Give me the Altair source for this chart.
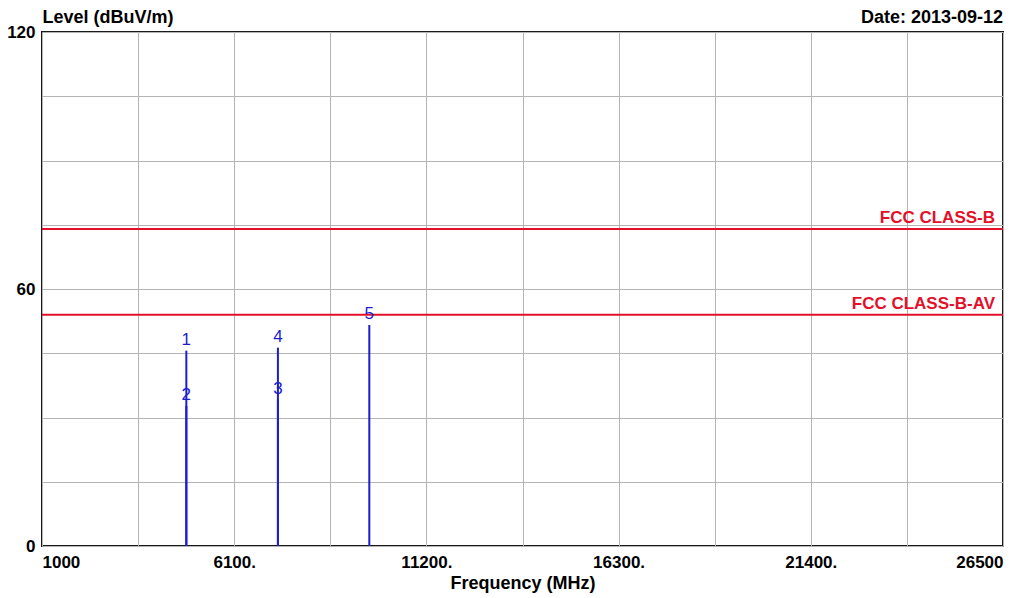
import json
import altair as alt
import pandas as pd

# Axis grid / tick definitions
x_grid = [1000, 3550, 6100, 8650, 11200, 13750, 16300, 18850, 21400, 23950, 26500]
x_tick_values = [1000, 6100, 11200, 16300, 21400, 26500]
x_tick_labels = ["1000", "6100.", "11200.", "16300.", "21400.", "26500"]
y_grid = [0, 15, 30, 45, 60, 75, 90, 105, 120]
y_tick_values = [0, 60, 120]
y_tick_labels = ["0", "60", "120"]

# Limit lines
limit_names = ["FCC CLASS-B", "FCC CLASS-B-AV"]
limit_levels = [74, 54]

# Markers
marker_ids = ["1", "2", "3", "4", "5"]
marker_freq = [4830, 4830, 7260, 7260, 9685]
marker_level = [45.6, 32.7, 34.2, 46.3, 51.6]

date_text = ["Date: 2013-09-12"]

W, H = 961, 514
FONT = "Liberation Sans"
BLUE = "#1c1cd0"
RED = "#e3102a"

markers = pd.DataFrame({"id": marker_ids, "freq": marker_freq, "level": marker_level, "base": [0] * len(marker_ids)})
limits = pd.DataFrame({"name": limit_names, "level": limit_levels})
date_df = pd.DataFrame({"t": date_text})

xlab_expr = "indexof({v}, datum.value) >= 0 ? {l}[indexof({v}, datum.value)] : ''".format(
    v=json.dumps(x_tick_values), l=json.dumps(x_tick_labels))
ylab_expr = "indexof({v}, datum.value) >= 0 ? {l}[indexof({v}, datum.value)] : ''".format(
    v=json.dumps(y_tick_values), l=json.dumps(y_tick_labels))

xscale = alt.Scale(domain=[1000, 26500], nice=False, zero=False)
yscale = alt.Scale(domain=[0, 120], nice=False, zero=True)

xaxis = alt.Axis(
    values=x_grid, labelExpr=xlab_expr, labelFlush=True, ticks=False, domain=False,
    grid=True, gridColor="#b4b4b4", gridWidth=1,
    labelFont=FONT, labelFontSize=17, labelFontWeight="bold", labelColor="#000",
    labelPadding=8, labelBaseline="top",
    title="Frequency (MHz)", titleFont=FONT, titleFontSize=18, titleFontWeight="bold",
    titleColor="#000", titleY=37, titleBaseline="middle",
)
yaxis = alt.Axis(
    values=y_grid, labelExpr=ylab_expr, ticks=False, domain=False,
    grid=True, gridColor="#b4b4b4", gridWidth=1,
    labelFont=FONT, labelFontSize=17, labelFontWeight="bold", labelColor="#000",
    labelPadding=7, labelBaseline="middle",
    title="Level (dBuV/m)", titleFont=FONT, titleFontSize=18, titleFontWeight="bold",
    titleColor="#000", titleAngle=0, titleX=0, titleY=-15, titleAlign="left",
    titleBaseline="middle",
)

marker_rules = alt.Chart(markers).mark_rule(color=BLUE, strokeWidth=2).encode(
    x=alt.X("freq:Q", scale=xscale, axis=xaxis),
    y=alt.Y("base:Q", scale=yscale, axis=yaxis),
    y2="level:Q",
)

marker_text = alt.Chart(markers).mark_text(
    color=BLUE, font=FONT, fontSize=17, baseline="alphabetic", align="center", dy=-6
).encode(
    x=alt.X("freq:Q", scale=xscale, axis=xaxis),
    y=alt.Y("level:Q", scale=yscale, axis=yaxis),
    text="id:N",
)

limit_rules = alt.Chart(limits).mark_rule(color=RED, strokeWidth=2).encode(
    y=alt.Y("level:Q", scale=yscale, axis=yaxis),
)

limit_text = alt.Chart(limits).mark_text(
    color=RED, font=FONT, fontSize=17, fontWeight="bold", align="right",
    baseline="alphabetic", dy=-6
).encode(
    x=alt.value(W - 8),
    y=alt.Y("level:Q", scale=yscale, axis=yaxis),
    text="name:N",
)

date_mark = alt.Chart(date_df).mark_text(
    font=FONT, fontSize=18, fontWeight="bold", align="right", baseline="middle", color="#000"
).encode(
    x=alt.value(W),
    y=alt.value(-14),
    text="t:N",
)

chart = alt.layer(
    marker_rules, limit_rules, marker_text, limit_text, date_mark
).properties(
    width=W, height=H,
    autosize="none",
    padding={"left": 34, "top": 24, "right": 8, "bottom": 50},
    background="white",
).configure_view(
    stroke="#1a1a1a", strokeWidth=2
)

chart.save("out.html", embed_options={"renderer": "svg", "actions": False})
